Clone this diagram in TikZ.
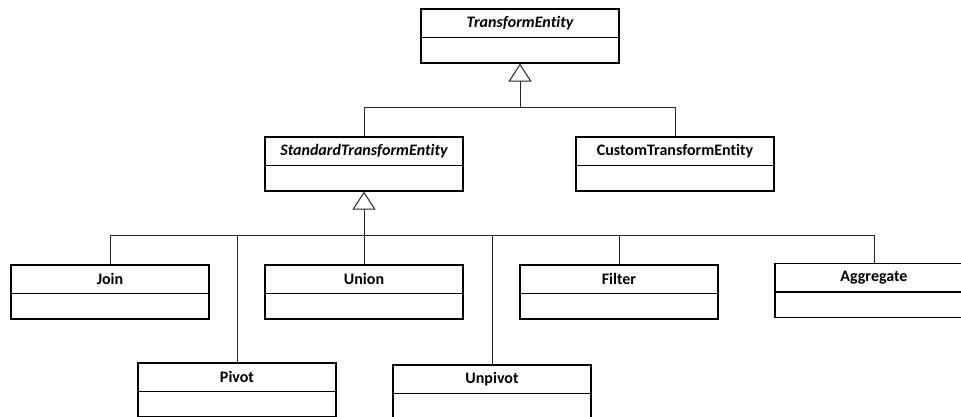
\documentclass[tikz,border=0pt]{standalone}
\usepackage{fontspec}
\setmainfont[Ligatures={NoCommon}]{Carlito}
\usetikzlibrary{arrows.meta,calc}

\tikzset{
  cls/.style={draw=black, line width=1.2pt, minimum width=198pt, minimum height=54pt,
              inner sep=0pt, fill=white},
  clsname/.style={font=\fontsize{16}{19}\selectfont\bfseries, inner sep=0pt},
  link/.style={draw=black!85, line width=0.8pt},
  gen/.style={link, -{Triangle[open, width=23pt, length=18pt, line width=1pt]}},
}

% class box with a name compartment and an empty body compartment
\newcommand\umlclass[4]{%
  \node[cls] (#1) at (#2,#3) {};
  \draw[line width=1.2pt] ($(#1.north west)+(0,29)$) -- ($(#1.north east)+(0,29)$);
  \node[clsname] (#1-name) at ($(#1.north)+(0,15)$) {#4};
}

\begin{document}
\begin{tikzpicture}[x=1pt, y=-1pt]
  \useasboundingbox (0,0) rectangle (961,416);
  \clip (0,0) rectangle (961,416);

  % top level
  \umlclass{te}{520}{36}{\itshape TransformEntity}
  \umlclass{std}{364}{164}{\itshape StandardTransformEntity}
  \umlclass{custom}{675}{164}{CustomTransformEntity}

  % concrete transforms
  \umlclass{join}{110}{292}{Join}
  \umlclass{union}{364}{292}{Union}
  \umlclass{filter}{619}{292}{Filter}
  \umlclass{aggregate}{874}{290.5}{Aggregate}
  \umlclass{pivot}{237}{390}{Pivot}
  \umlclass{unpivot}{492}{392}{Unpivot}

  % generalisation junctions
  \coordinate (hubTop) at (520,107);
  \coordinate (hubStd) at (364,235.5);

  \draw[gen] (hubTop) -- (te.south);
  \draw[link] (std.north) |- (hubTop);
  \draw[link] (custom.north) |- (hubTop);

  \draw[gen] (hubStd) -- (std.south);
  \draw[link] (join.north) |- (hubStd);
  \draw[link] (pivot.north) |- (hubStd);
  \draw[link] (union.north) -- (hubStd);
  \draw[link] (unpivot.north) |- (hubStd);
  \draw[link] (filter.north) |- (hubStd);
  \draw[link] (aggregate.north) |- (hubStd);
\end{tikzpicture}
\end{document}
